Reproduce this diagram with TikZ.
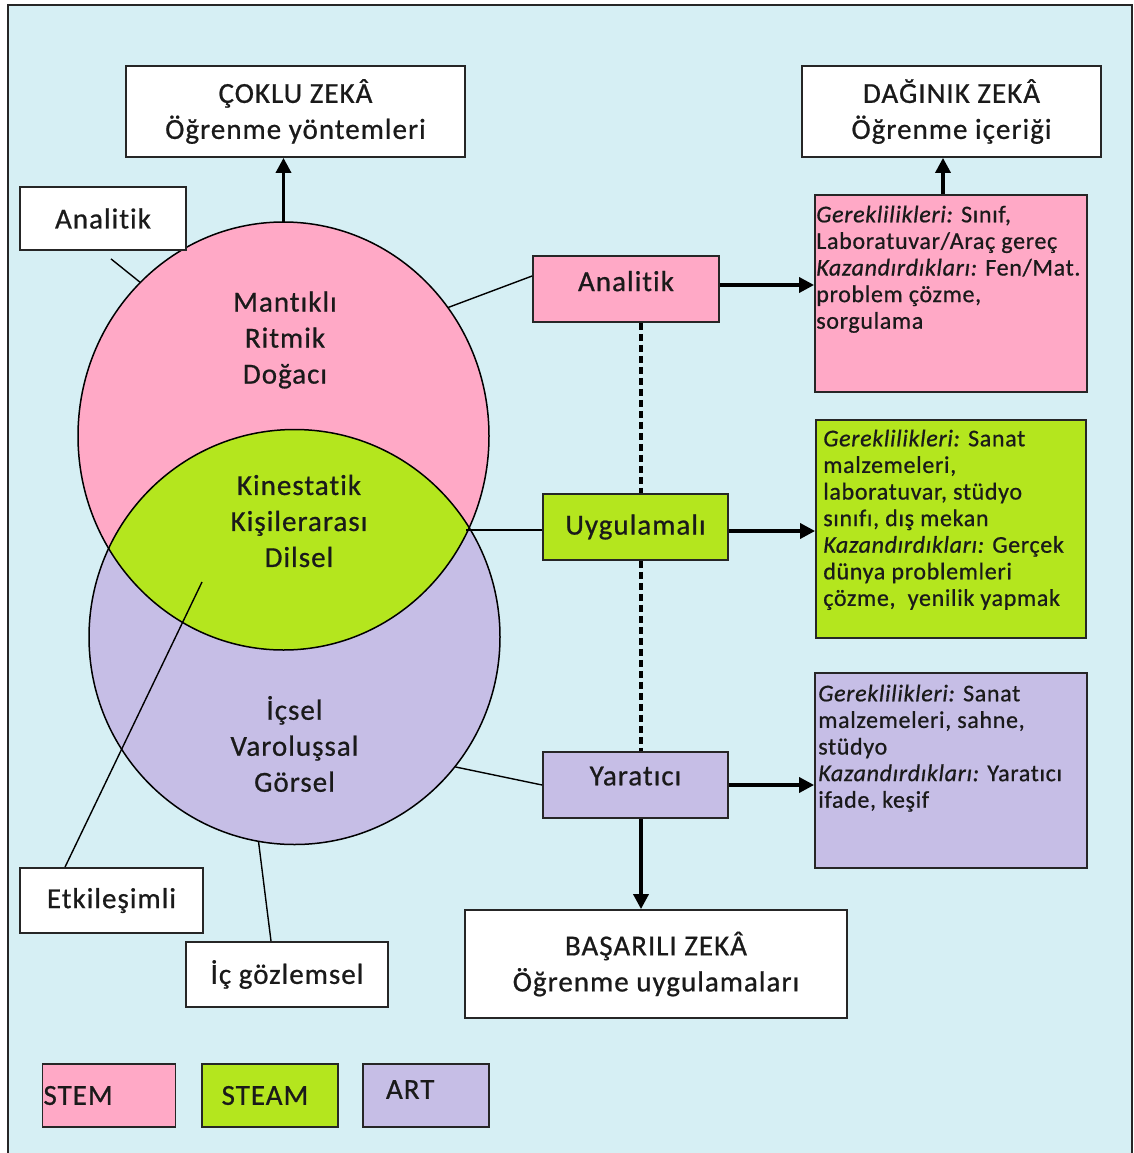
\documentclass[tikz,border=0pt]{standalone}
\usepackage{fontspec}
\setmainfont{Carlito}[LetterSpace=3.5, Ligatures=NoCommon, FakeBold=0.7]
\usetikzlibrary{arrows.meta,shapes.geometric}
\definecolor{bg}{HTML}{D6EFF4}
\definecolor{pinkc}{HTML}{FFA9C6}
\definecolor{greenc}{HTML}{B4E61E}
\definecolor{lavc}{HTML}{C6BEE6}
\definecolor{edge}{HTML}{262626}
\definecolor{ink}{HTML}{1A1A1A}
\newcommand{\lbl}[1]{{\itshape #1}}
\begin{document}
\begin{tikzpicture}[x=1pt,y=-1pt,
  every node/.style={text=ink},
  bigtxt/.style={font=\fontsize{29}{36}\selectfont},
  smalltxt/.style={font=\fontsize{24}{26.6}\selectfont\addfontfeatures{LetterSpace=2.8}},
  box/.style={draw=edge, line width=1.8pt, inner sep=0pt, align=center, bigtxt, fill=white},
  infobox/.style={draw=edge, line width=1.8pt, inner sep=0pt},
  infotext/.style={inner sep=0pt, align=left, smalltxt, anchor=north west},
  blob/.style={ellipse, inner sep=0pt, outer sep=0pt},
  leader/.style={draw=black, line width=1.4pt},
  arr/.style={draw=black, line width=3.4pt, -{Triangle[length=15pt,width=15pt]}},
  dashline/.style={draw=black, line width=3.2pt, dash pattern=on 7pt off 4pt},
]
\useasboundingbox (0,0) rectangle (1133,1153);
\clip (0,0) rectangle (1133,1153);
\fill[white] (0,0) rectangle (1133,1153);
\draw[fill=bg, draw=edge, line width=1.5pt] (8,5) rectangle (1132,1165);

% Venn ellipses
\node[blob, fill=pinkc, minimum width=411pt, minimum height=428pt] (pinkE) at (283.5,436) {};
\node[blob, fill=lavc, minimum width=411pt, minimum height=415pt] (lavE) at (294.5,637) {};
\begin{scope}
  \clip (283.5,436) ellipse [x radius=205.5pt, y radius=214pt];
  \fill[greenc] (294.5,637) ellipse [x radius=205.5pt, y radius=207.5pt];
\end{scope}
\draw[black, line width=1.5pt] (pinkE.center) ellipse [x radius=205.5pt, y radius=214pt];
\draw[black, line width=1.5pt] (lavE.center) ellipse [x radius=205.5pt, y radius=207.5pt];
\coordinate (isect) at (466,530);
\coordinate (etkEnd) at (202,582);

\node[bigtxt, align=center] (tPink) at (285,340) {Mantıklı\\Ritmik\\Doğacı};
\node[bigtxt, align=center] (tGreen) at (299,521) {Kinestatik\\Kişilerarası\\Dilsel};
\node[bigtxt, align=center] (tLav) at (294.5,744) {İçsel\\Varoluşsal\\Görsel};

% boxes
\node[box, minimum width=339pt, minimum height=91pt] (coklu) at (295.5,111.5) {ÇOKLU ZEKÂ\\Öğrenme yöntemleri};
\node[box, minimum width=299pt, minimum height=91pt] (dag) at (951.5,111.5) {DAĞINIK ZEKÂ\\Öğrenme içeriği};
\node[box, minimum width=382pt, minimum height=108pt] (bas) at (656,964) {BAŞARILI ZEKÂ\\Öğrenme uygulamaları};
\node[box, minimum width=166pt, minimum height=63pt] (anL) at (103,218.5) {Analitik};
\node[box, minimum width=183pt, minimum height=65pt] (etk) at (111.5,900.5) {Etkileşimli};
\node[box, minimum width=202pt, minimum height=65pt] (icg) at (287,974.5) {İç gözlemsel};
\node[box, fill=pinkc, minimum width=186pt, minimum height=66pt, text depth=16pt] (anM) at (626,289) {Analitik};
\node[box, fill=greenc, minimum width=185pt, minimum height=66pt] (uyg) at (635.5,527) {Uygulamalı};
\node[box, fill=lavc, minimum width=185pt, minimum height=66pt, text depth=18pt] (yar) at (635.5,785) {Yaratıcı};

% info boxes
\node[infobox, fill=pinkc, minimum width=272pt, minimum height=197pt] (pinkR) at (951,293.5) {};
\node[infotext] (pinkRt) at ([xshift=2pt]pinkR.north west) {\rule{0pt}{28pt}\lbl{Gereklilikleri:} Sınıf,\\Laboratuvar/Araç gereç\\\lbl{Kazandırdıkları:} Fen/Mat.\\problem çözme,\\sorgulama};
\node[infobox, fill=greenc, minimum width=270pt, minimum height=218pt] (greenR) at (951,529) {};
\node[infotext] (greenRt) at ([xshift=8pt]greenR.north west) {\rule{0pt}{27pt}\lbl{Gereklilikleri:} Sanat\\malzemeleri,\\laboratuvar, stüdyo\\sınıfı, dış mekan\\\lbl{Kazandırdıkları:} Gerçek\\dünya problemleri\\çözme,~ yenilik yapmak};
\node[infobox, fill=lavc, minimum width=272pt, minimum height=195pt] (lavR) at (951,770.5) {};
\node[infotext] (lavRt) at ([xshift=4pt]lavR.north west) {\rule{0pt}{29pt}\lbl{Gereklilikleri:} Sanat\\malzemeleri, sahne,\\stüdyo\\\lbl{Kazandırdıkları:} Yaratıcı\\ifade, keşif};

% legend
\node[box, fill=pinkc, minimum width=133pt, minimum height=63pt, text width=131pt, align=left] (stem) at (109,1095.5) {STEM};
\node[box, fill=greenc, minimum width=136pt, minimum height=63pt] (steam) at (270,1095.5) {STEAM\hspace*{10pt}};
\node[box, fill=lavc, minimum width=126pt, minimum height=63pt, text width=124pt, align=left, text depth=12pt] (art) at (426,1095.5) {\hspace*{22pt}ART};

% arrows
\draw[arr] (pinkE.north) -- (pinkE.north |- coklu.south);
\draw[arr] ([xshift=-8pt]pinkR.north) -- ([xshift=-8pt]pinkR.north |- dag.south);
\draw[arr] ([yshift=4pt]anM.east) -- ([yshift=4pt]anM.east -| pinkR.west);
\draw[arr] ([yshift=-4pt]uyg.east) -- ([yshift=-4pt]uyg.east -| greenR.west);
\draw[arr] (yar.east) -- (yar.east -| lavR.west);
\draw[arr] ([xshift=5.5pt]yar.south) -- ([xshift=5.5pt]yar.south |- bas.north);

% dashed
\draw[dashline] ([xshift=15pt]anM.south) -- ([xshift=15pt]anM.south |- uyg.north);
\draw[dashline] ([xshift=5.5pt]uyg.south) -- ([xshift=5.5pt]uyg.south |- yar.north);

% leader lines
\draw[leader] ([yshift=13pt]anM.west) -- (pinkE.38);
\draw[leader] ([yshift=-3pt]uyg.west) -- (isect);
\draw[leader] (yar.west) -- (lavE.-39);
\draw[leader] ([xshift=8pt,yshift=-8pt]anL.south) -- (pinkE.133);
\draw[leader] ([xshift=-46.5pt]etk.north) -- (etkEnd);
\draw[leader] ([xshift=-16pt]icg.north) -- (lavE.-100);
\end{tikzpicture}
\end{document}
